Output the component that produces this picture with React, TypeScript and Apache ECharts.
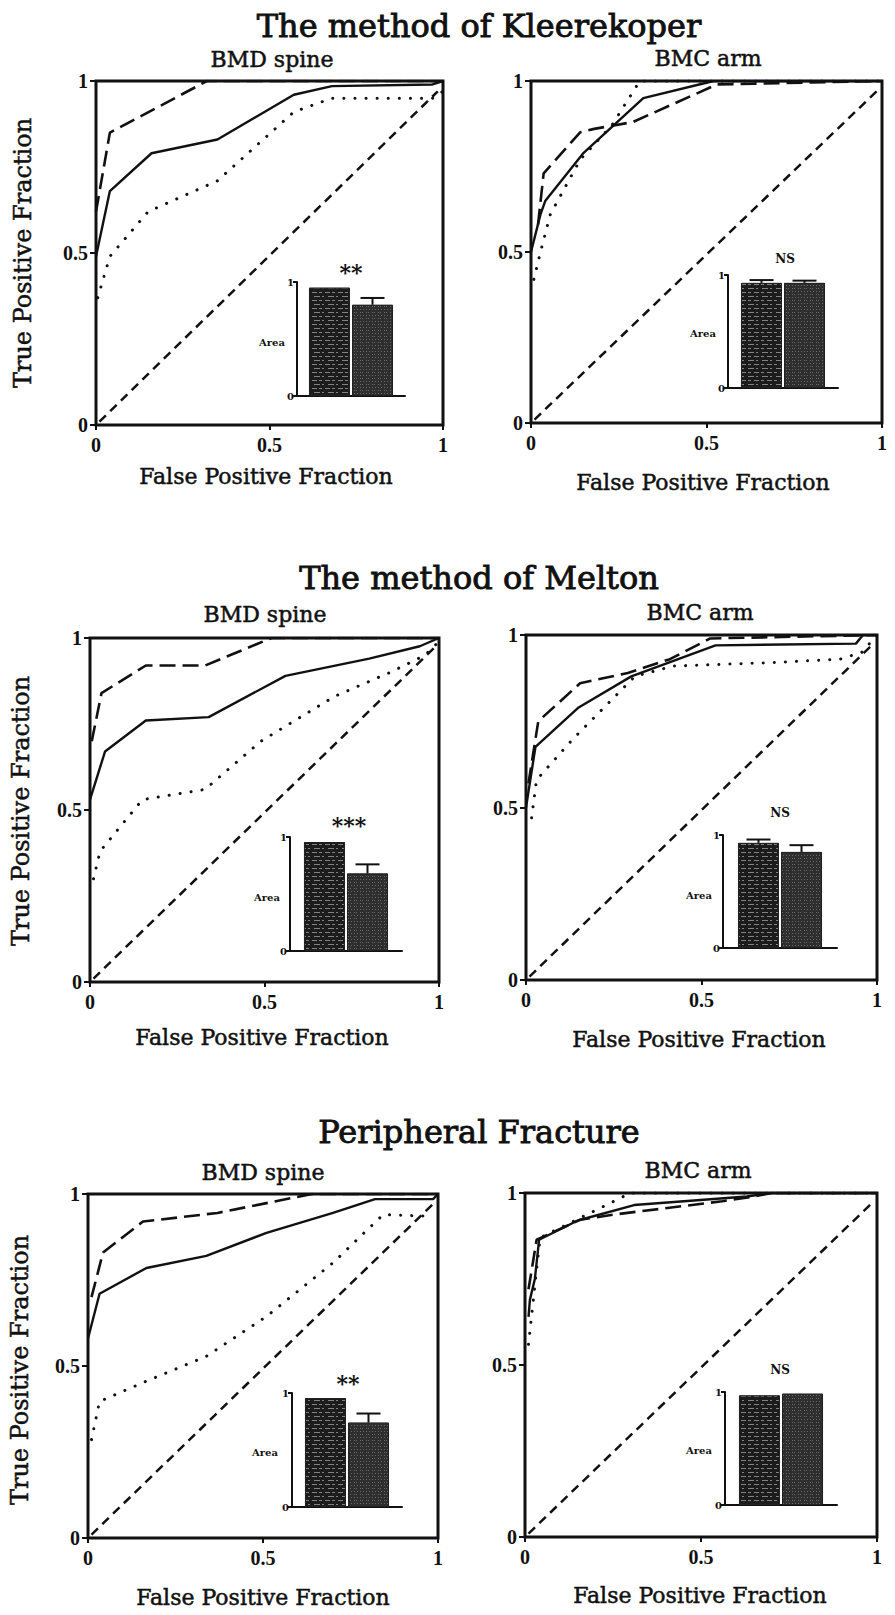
import React, { useEffect, useRef } from "react";
import * as echarts from "echarts";

// ---------- texts ----------
const sectionTitles = ["The method of Kleerekoper", "The method of Melton", "Peripheral Fracture"];
const panelSubtitles = ["BMD spine", "BMC arm", "BMD spine", "BMC arm", "BMD spine", "BMC arm"];
const xAxisTitle = "False Positive Fraction";
const yAxisTitle = "True Positive Fraction";
const axisTickValues = [0, 0.5, 1];
const insetCategory = ["Area"];
const significance = ["**", "NS", "***", "NS", "**", "NS"];

// ---------- ROC curves: [false positive fraction, true positive fraction] ----------
const kleeSpineSolid = [[0, 0.49], [0.04, 0.68], [0.16, 0.79], [0.35, 0.83], [0.57, 0.96], [0.68, 0.985], [0.97, 0.99], [1, 1]];
const kleeSpineDashed = [[0, 0.62], [0.04, 0.85], [0.32, 1], [1, 1]];
const kleeSpineDotted = [[0.005, 0.37], [0.04, 0.49], [0.15, 0.62], [0.35, 0.71], [0.57, 0.91], [0.68, 0.95], [0.97, 0.95], [1, 0.97]];

const kleeArmSolid = [[0, 0.5], [0.027, 0.61], [0.041, 0.65], [0.15, 0.79], [0.32, 0.95], [0.52, 1], [1, 1]];
const kleeArmDashed = [[0.02, 0.58], [0.036, 0.73], [0.14, 0.85], [0.18, 0.86], [0.29, 0.88], [0.53, 0.99], [1, 1]];
const kleeArmDotted = [[0.008, 0.42], [0.027, 0.5], [0.055, 0.61], [0.14, 0.77], [0.23, 0.87], [0.31, 1], [1, 1]];

const meltonSpineSolid = [[0, 0.53], [0.043, 0.67], [0.16, 0.76], [0.34, 0.77], [0.56, 0.89], [0.8, 0.94], [0.945, 0.976], [1, 1]];
const meltonSpineDashed = [[0.005, 0.7], [0.033, 0.84], [0.16, 0.92], [0.33, 0.92], [0.52, 1], [1, 1]];
const meltonSpineDotted = [[0.01, 0.3], [0.029, 0.38], [0.15, 0.53], [0.33, 0.56], [0.49, 0.7], [0.7, 0.83], [0.86, 0.9], [0.96, 0.95], [1, 0.99]];

const meltonArmSolid = [[0, 0.5], [0.027, 0.676], [0.15, 0.79], [0.3, 0.88], [0.54, 0.97], [0.94, 0.975], [0.96, 1], [1, 1]];
const meltonArmDashed = [[0.007, 0.57], [0.035, 0.75], [0.154, 0.86], [0.29, 0.89], [0.41, 0.93], [0.525, 0.99], [1, 1]];
const meltonArmDotted = [[0.016, 0.47], [0.03, 0.58], [0.135, 0.7], [0.31, 0.88], [0.42, 0.91], [0.7, 0.92], [0.895, 0.93], [0.957, 0.95], [1, 1]];

const periSpineSolid = [[0, 0.58], [0.033, 0.71], [0.167, 0.785], [0.338, 0.82], [0.51, 0.887], [0.7, 0.945], [0.82, 0.985], [0.986, 0.985], [1, 1]];
const periSpineDashed = [[0.01, 0.7], [0.043, 0.83], [0.157, 0.92], [0.37, 0.945], [0.64, 1], [1, 1]];
const periSpineDotted = [[0.01, 0.286], [0.033, 0.397], [0.176, 0.46], [0.338, 0.528], [0.51, 0.644], [0.7, 0.8], [0.843, 0.94], [0.986, 0.935]];

const periArmSolid = [[0.01, 0.64], [0.014, 0.69], [0.028, 0.75], [0.04, 0.864], [0.15, 0.92], [0.31, 0.965], [0.63, 0.99], [0.7, 1], [1, 1]];
const periArmDashed = [[0.01, 0.72], [0.033, 0.864], [0.156, 0.922], [0.25, 0.937], [0.56, 0.976], [0.65, 0.99], [0.7, 1], [1, 1]];
const periArmDotted = [[0.01, 0.56], [0.03, 0.75], [0.043, 0.87], [0.156, 0.927], [0.27, 0.985], [0.3, 1], [1, 1]];

const chanceLine = [[0.01, 0.01], [0.985, 0.97]];

const solidCurves = [kleeSpineSolid, kleeArmSolid, meltonSpineSolid, meltonArmSolid, periSpineSolid, periArmSolid];
const dashedCurves = [kleeSpineDashed, kleeArmDashed, meltonSpineDashed, meltonArmDashed, periSpineDashed, periArmDashed];
const dottedCurves = [kleeSpineDotted, kleeArmDotted, meltonSpineDotted, meltonArmDotted, periSpineDotted, periArmDotted];

// ---------- inset bar charts (area under curve) ----------
const insetBar1 = [0.95, 0.93, 0.956, 0.93, 0.956, 0.97];
const insetBar2 = [0.8, 0.93, 0.68, 0.85, 0.74, 0.985];
const insetErr1Top = [null, 0.955, null, 0.96, null, null];
const insetErr2Top = [0.86, 0.95, 0.76, 0.91, 0.82, null];

// ---------- layout (pixels) ----------
const panelBoxes = [
  { l: 96, t: 81, w: 347, h: 344 },
  { l: 531, t: 81, w: 351, h: 342 },
  { l: 90, t: 638, w: 349, h: 344 },
  { l: 526, t: 635, w: 351, h: 345 },
  { l: 88, t: 1194, w: 350, h: 344 },
  { l: 525, t: 1193, w: 352, h: 344 },
];
const insetBoxes = [
  { l: 297, t: 282, w: 108, h: 114 },
  { l: 728, t: 275, w: 110, h: 113 },
  { l: 290, t: 837, w: 112, h: 114 },
  { l: 723, t: 835, w: 114, h: 113 },
  { l: 292, t: 1393, w: 110, h: 114 },
  { l: 725, t: 1392, w: 112, h: 113 },
];
const sectionTitlePos = [[479, 26], [479, 578], [479, 1132]];
const subtitlePos = [[272, 59], [708, 58], [265, 614], [700, 612], [263, 1172], [698, 1170]];
const xTitlePos = [[266, 476], [703, 482], [262, 1037], [699, 1039], [263, 1597], [700, 1595]];
const yTitlePos = [[23, 253], [21, 811], [20, 1370]];
const sigPos = [[351, 272], [785, 259], [349, 825], [780, 813], [348, 1383], [780, 1370]];
const areaPos = [[272, 342], [703, 333], [267, 897], [699, 895], [265, 1452], [699, 1450]];

const SERIF = "DejaVu Serif";
const TICKFONT = "Liberation Serif";
const INK = "#111";
const BAR_W = 41;

function textEl(text: string, x: number, y: number, size: number, weight: string, family: string, rotation = 0, thicken = 0) {
  const style: any = {
    text,
    fill: INK,
    fontSize: size,
    fontWeight: weight,
    fontFamily: family,
    align: "center",
    verticalAlign: "middle",
    textAlign: "center",
    textVerticalAlign: "middle",
  };
  if (thicken > 0) {
    style.stroke = INK;
    style.lineWidth = thicken;
  }
  return { type: "text", x, y, rotation, silent: true, style };
}

export default function App() {
  const ref = useRef<HTMLDivElement>(null);

  useEffect(() => {
    if (!ref.current) return;
    const chart = echarts.init(ref.current, null, { renderer: "svg" });

    const grid: any[] = [];
    const xAxis: any[] = [];
    const yAxis: any[] = [];
    const series: any[] = [];

    panelBoxes.forEach((b, i) => {
      grid.push({
        left: b.l, top: b.t, width: b.w, height: b.h,
        show: true, borderColor: INK, borderWidth: 3, backgroundColor: "transparent",
        containLabel: false,
      });
      const tickLabel = { fontFamily: TICKFONT, fontWeight: "bold", fontSize: 20, color: INK };
      xAxis.push({
        gridIndex: i, type: "value", min: axisTickValues[0], max: axisTickValues[2], interval: 0.5,
        axisLine: { show: false },
        axisTick: { show: true, length: 5, lineStyle: { color: INK, width: 2 } },
        axisLabel: { ...tickLabel, margin: 10 },
        splitLine: { show: false },
      });
      yAxis.push({
        gridIndex: i, type: "value", min: axisTickValues[0], max: axisTickValues[2], interval: 0.5,
        axisLine: { show: false },
        axisTick: { show: true, length: 6, lineStyle: { color: INK, width: 2 } },
        axisLabel: { ...tickLabel, margin: 8 },
        splitLine: { show: false },
      });
    });

    insetBoxes.forEach((b, k) => {
      const gi = panelBoxes.length + k;
      grid.push({ left: b.l, top: b.t, width: b.w, height: b.h, containLabel: false });
      xAxis.push({
        gridIndex: gi, type: "category", data: insetCategory,
        axisLine: { show: true, lineStyle: { color: INK, width: 2 } },
        axisTick: { show: false }, axisLabel: { show: false }, splitLine: { show: false },
      });
      yAxis.push({
        gridIndex: gi, type: "value", min: 0, max: 1, interval: 1,
        axisLine: { show: true, lineStyle: { color: INK, width: 2 } },
        axisTick: { show: true, length: 4, lineStyle: { color: INK, width: 2 } },
        axisLabel: { fontFamily: SERIF, fontWeight: "bold", fontSize: 10, color: INK, margin: 3 },
        splitLine: { show: false },
      });
    });

    const lineCommon = { type: "line", showSymbol: false, symbol: "none", silent: true, z: 3 };
    panelBoxes.forEach((_, i) => {
      series.push({
        ...lineCommon, name: "chance", xAxisIndex: i, yAxisIndex: i, data: chanceLine,
        lineStyle: { color: INK, width: 2.5, type: [9, 6] },
      });
      series.push({
        ...lineCommon, name: "dotted", xAxisIndex: i, yAxisIndex: i, data: dottedCurves[i],
        lineStyle: { color: INK, width: 3, type: [0.1, 11], cap: "round" },
      });
      series.push({
        ...lineCommon, name: "dashed", xAxisIndex: i, yAxisIndex: i, data: dashedCurves[i],
        lineStyle: { color: INK, width: 2.6, type: [16, 7] },
      });
      series.push({
        ...lineCommon, name: "solid", xAxisIndex: i, yAxisIndex: i, data: solidCurves[i],
        lineStyle: { color: INK, width: 2.4 },
      });
    });

    insetBoxes.forEach((_, k) => {
      const gi = panelBoxes.length + k;
      series.push({
        type: "bar", name: "bar1", xAxisIndex: gi, yAxisIndex: gi, silent: true,
        data: [insetBar1[k]], barWidth: BAR_W, barGap: "5%",
        itemStyle: {
          color: "#1c1c1c", borderColor: "#222", borderWidth: 1,
          decal: {
            symbol: "rect", symbolSize: 1, color: "rgba(255,255,255,0.45)",
            dashArrayX: [[5, 2, 3, 3], [2, 4, 6, 2]], dashArrayY: [1, 3], rotation: 0,
          },
        },
      });
      series.push({
        type: "bar", name: "bar2", xAxisIndex: gi, yAxisIndex: gi, silent: true,
        data: [insetBar2[k]], barWidth: BAR_W, barGap: "5%",
        itemStyle: {
          color: "#2e2e2e", borderColor: "#222", borderWidth: 1,
          decal: {
            symbol: "rect", symbolSize: 1, color: "rgba(255,255,255,0.28)",
            dashArrayX: [[1, 2], [1, 1, 1, 3]], dashArrayY: [1, 1.5], rotation: 0,
          },
        },
      });
      const errData: any[] = [];
      if (insetErr1Top[k] != null) errData.push([0, insetBar1[k], insetErr1Top[k], -1]);
      if (insetErr2Top[k] != null) errData.push([0, insetBar2[k], insetErr2Top[k], 1]);
      const offset = BAR_W / 2 + 1;
      series.push({
        type: "custom", name: "err", xAxisIndex: gi, yAxisIndex: gi, silent: true, z: 5,
        data: errData,
        encode: { x: 0, y: [1, 2] },
        renderItem: (params: any, api: any) => {
          const base = api.coord([api.value(0), api.value(1)]);
          const tp = api.coord([api.value(0), api.value(2)]);
          const cx = base[0] + api.value(3) * offset;
          return {
            type: "group",
            children: [
              { type: "line", shape: { x1: cx, y1: base[1], x2: cx, y2: tp[1] }, style: { stroke: INK, lineWidth: 2 } },
              { type: "line", shape: { x1: cx - 12, y1: tp[1], x2: cx + 12, y2: tp[1] }, style: { stroke: INK, lineWidth: 2 } },
            ],
          };
        },
      });
    });

    const graphics: any[] = [];
    sectionTitles.forEach((t, s) => graphics.push(textEl(t, sectionTitlePos[s][0], sectionTitlePos[s][1], 32, "normal", SERIF, 0, 0.9)));
    panelSubtitles.forEach((t, i) => graphics.push(textEl(t, subtitlePos[i][0], subtitlePos[i][1], 22, "normal", SERIF, 0, 0.5)));
    xTitlePos.forEach((p) => graphics.push(textEl(xAxisTitle, p[0], p[1], 22, "normal", SERIF, 0, 0.5)));
    yTitlePos.forEach((p) => graphics.push(textEl(yAxisTitle, p[0], p[1], 24, "normal", SERIF, Math.PI / 2, 0.5)));
    significance.forEach((t, k) => graphics.push(textEl(t, sigPos[k][0], sigPos[k][1], t === "NS" ? 12 : 22, "bold", SERIF)));
    areaPos.forEach((p) => graphics.push(textEl(insetCategory[0], p[0], p[1], 10, "bold", SERIF)));

    chart.setOption({
      animation: false,
      backgroundColor: "#fff",
      grid, xAxis, yAxis, series,
      graphic: { elements: graphics },
    });

    return () => chart.dispose();
  }, []);

  return (
    <div
      ref={ref}
      style={{ position: "absolute", left: 0, top: 0, width: 895, height: 1615, background: "#fff" }}
    />
  );
}
